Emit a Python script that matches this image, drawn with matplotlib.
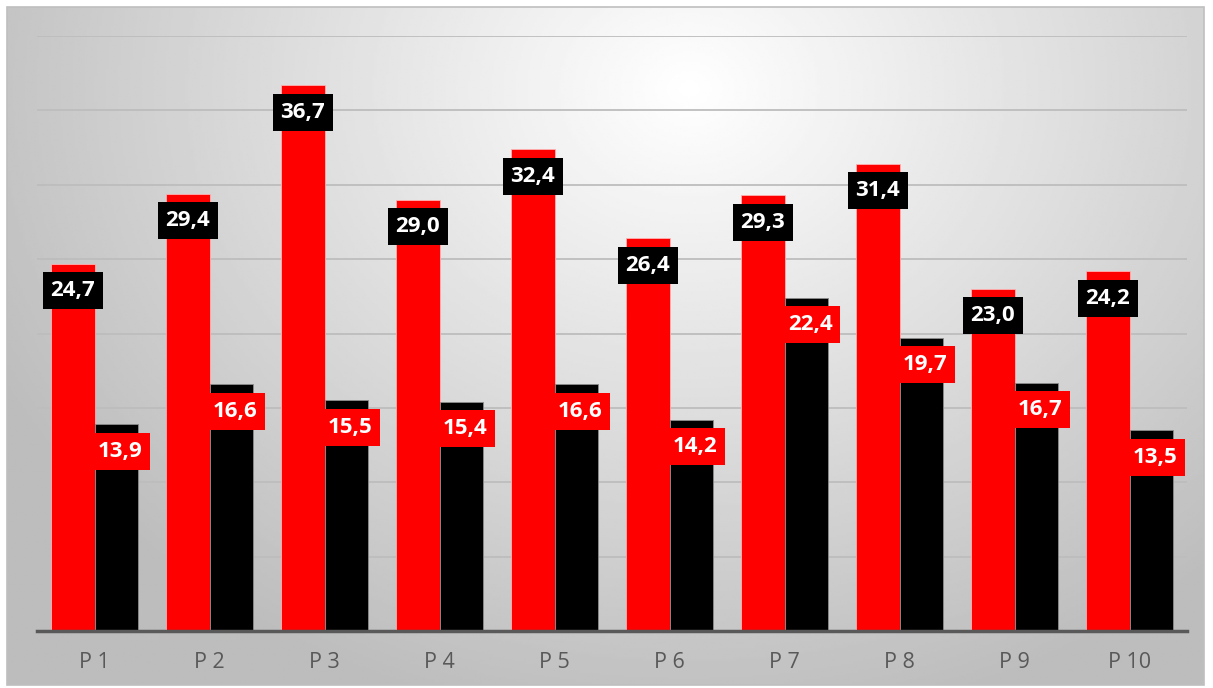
import matplotlib
matplotlib.use("Agg")
import matplotlib.pyplot as plt
import numpy as np
from matplotlib.patches import Rectangle

# data
labels = ["P 1", "P 2", "P 3", "P 4", "P 5", "P 6", "P 7", "P 8", "P 9", "P 10"]
red_vals = [24.7, 29.4, 36.7, 29.0, 32.4, 26.4, 29.3, 31.4, 23.0, 24.2]
black_vals = [13.9, 16.6, 15.5, 15.4, 16.6, 14.2, 22.4, 19.7, 16.7, 13.5]

W, H = 1213, 688
fig = plt.figure(figsize=(W / 100, H / 100), dpi=100)

# radial gradient background inside the chart frame
bg = fig.add_axes([7 / W, 3 / H, 1197 / W, 678 / H], zorder=-2)
yy, xx = np.mgrid[0:1:300j, 0:1:500j]
r = np.sqrt(((xx - 0.57) / 0.75) ** 2 + ((yy - 0.12) / 1.1) ** 2)
shade = np.clip(1.0 - 0.30 * r, 0.74, 1.0)
bg.imshow(shade, cmap="gray", vmin=0, vmax=1, aspect="auto",
          extent=[0, 1, 1, 0], interpolation="bilinear")
bg.set_axis_off()
fig.patches.append(Rectangle((7 / W, 3 / H), 1197 / W, 678 / H,
                             transform=fig.transFigure, fill=False,
                             edgecolor="#bfbfbf", linewidth=1.2))

ax = fig.add_axes([37 / W, (H - 631) / H, 1150 / W, 595 / H])
ax.set_facecolor("none")
x = np.arange(len(labels))
w = 0.375

ax.bar(x - w / 2, red_vals, w, color="#ff0000", edgecolor="#ffb3b3",
       linewidth=0.6, zorder=2)
ax.bar(x + w / 2, black_vals, w, color="#000000", edgecolor="#8c8c8c",
       linewidth=0.6, zorder=2)

font = dict(family=["Open Sans", "DejaVu Sans"], fontsize=16,
            fontweight="bold", color="white")
for xi, v in zip(x, red_vals):
    ax.annotate(f"{v:.1f}".replace(".", ","), (xi - w / 2, v),
                xytext=(0, -27), textcoords="offset pixels",
                ha="center", va="center", zorder=4,
                bbox=dict(boxstyle="square,pad=0.36", fc="black", ec="none"),
                **font)
for xi, v in zip(x, black_vals):
    ax.annotate(f"{v:.1f}".replace(".", ","), (xi + w / 2, v),
                xytext=(4, -27), textcoords="offset pixels",
                ha="center", va="center", zorder=4,
                bbox=dict(boxstyle="square,pad=0.36", fc="#ff0000", ec="none"),
                **font)

ax.set_xlim(-0.5, len(labels) - 0.5)
ax.set_ylim(0, 40)
ax.set_yticks(np.arange(5, 45, 5))
ax.yaxis.grid(True, color="#bdbdbd", linewidth=1.3, zorder=0)
ax.set_axisbelow(True)
ax.tick_params(axis="y", left=False, labelleft=False)
ax.set_xticks(x)
ax.set_xticklabels(labels, family=["Open Sans", "DejaVu Sans"],
                   fontsize=15.5, color="#595959")
ax.tick_params(axis="x", length=0, pad=15)
for s in ["top", "right", "left"]:
    ax.spines[s].set_visible(False)
ax.spines["bottom"].set_color("#595959")
ax.spines["bottom"].set_linewidth(2.5)
ax.spines["bottom"].set_zorder(5)

fig.savefig("out.png", dpi=100)
